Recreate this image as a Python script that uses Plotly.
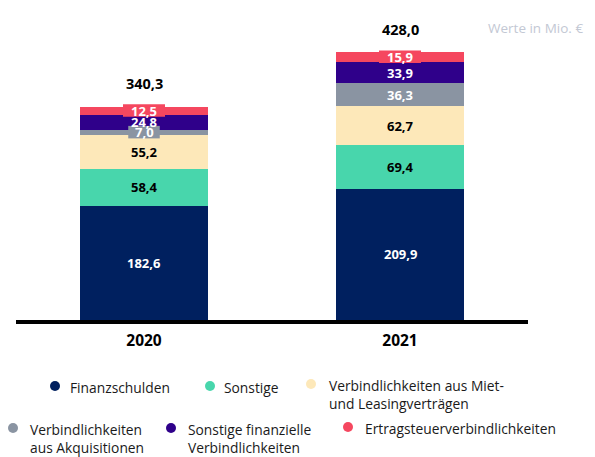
import plotly.graph_objects as go

# ---------------- data ----------------
years = ["2020", "2021"]
finanzschulden = [182.6, 209.9]
sonstige = [58.4, 69.4]
miet_leasing = [55.2, 62.7]
akquisitionen = [7.0, 36.3]
sonstige_finanzielle = [24.8, 33.9]
ertragsteuer = [12.5, 15.9]
totals = [340.3, 428.0]

# name, legend text, values, colour, label colour
series = [
    ("Finanzschulden", "Finanzschulden", finanzschulden, "#00205f", "white"),
    ("Sonstige", "Sonstige", sonstige, "#48d6ac", "black"),
    ("Miet", "Verbindlichkeiten aus Miet-<br>und Leasingverträgen", miet_leasing, "#fde8b9", "black"),
    ("Akq", "Verbindlichkeiten<br>aus Akquisitionen", akquisitionen, "#8a94a2", "white"),
    ("SonstFin", "Sonstige finanzielle<br>Verbindlichkeiten", sonstige_finanzielle, "#2f008a", "white"),
    ("Ertrag", "Ertragsteuerverbindlichkeiten", ertragsteuer, "#f5475f", "white"),
]

W, H = 595, 457
L, R, T, B = 16, 67, 20, 137
PW, PH = W - L - R, H - T - B
SCALE = 0.626  # px per Mio. €
FONT = "Open Sans"


def fmt(v):
    return f"{v:.1f}".replace(".", ",")


def px(x):
    return (x - L) / PW


def py(y):
    return (H - B - y) / PH


fig = go.Figure()
annotations = []
shapes = []
base = [0.0, 0.0]
for name, leg, vals, col, tcol in series:
    fig.add_trace(go.Bar(x=years, y=vals, name=name, marker_color=col,
                         marker_line_width=0, width=0.5, showlegend=False))
    for i, v in enumerate(vals):
        mid = base[i] + v / 2
        txt = fmt(v)
        if v * SCALE < 12:
            # thin segment: label gets a small box in the segment colour
            w = 10.5 * len(txt)
            shapes.append(dict(type="rect", xref="x", yref="y", xsizemode="pixel",
                               ysizemode="pixel", xanchor=i, yanchor=mid,
                               x0=-w / 2, x1=w / 2, y0=-6, y1=6.5,
                               fillcolor=col, line_width=0, layer="above"))
        annotations.append(dict(x=i, y=mid, xref="x", yref="y",
                                text="<b>" + txt + "</b>", showarrow=False,
                                font=dict(family=FONT, size=13, color=tcol),
                                borderpad=0, yanchor="middle"))
        base[i] += v

for i, t in enumerate(totals):
    annotations.append(dict(x=i, y=t, xref="x", yref="y", yshift=23,
                            text="<b>" + fmt(t) + "</b>", showarrow=False,
                            font=dict(family=FONT, size=14.5, color="black")))

annotations.append(dict(x=px(585), y=py(17), xref="paper", yref="paper",
                        text="Werte in Mio. €", showarrow=False, xanchor="right",
                        font=dict(family=FONT, size=13.5, color="#c3c8d4")))

# legend drawn by hand: dot centre, text left, first line y
legend_pos = [(55, 68, 386), (210, 222, 386), (311, 327, 384),
              (13, 28, 428), (171, 186, 428), (348, 363, 427)]
for (name, leg, vals, col, tcol), (dx, tx, ty) in zip(series, legend_pos):
    shapes.append(dict(type="circle", xref="paper", yref="paper",
                       x0=px(dx - 5), x1=px(dx + 5), y0=py(ty + 5), y1=py(ty - 5),
                       fillcolor=col, line_width=0))
    annotations.append(dict(x=px(tx), y=py(ty - 10), xref="paper", yref="paper",
                            text=leg, showarrow=False, xanchor="left", yanchor="top",
                            align="left", font=dict(family=FONT, size=13.8, color="#1a1a1a")))

fig.update_layout(
    barmode="stack",
    width=W, height=H,
    margin=dict(l=L, r=R, t=T, b=B),
    plot_bgcolor="white", paper_bgcolor="white",
    annotations=annotations, shapes=shapes,
    font=dict(family=FONT),
)
fig.update_xaxes(type="category", showline=True, linecolor="black", linewidth=4, ticks="",
                 tickfont=dict(family=FONT, size=15.5, color="black"),
                 tickvals=years, ticktext=["<b>" + y + "</b>" for y in years],
                 ticklabelstandoff=3, range=[-0.5, 1.5])
fig.update_yaxes(visible=False, range=[0, PH / SCALE], showgrid=False)

fig.write_html("out.html", config={"displayModeBar": False},
               post_script="document.body.style.margin='0';")
